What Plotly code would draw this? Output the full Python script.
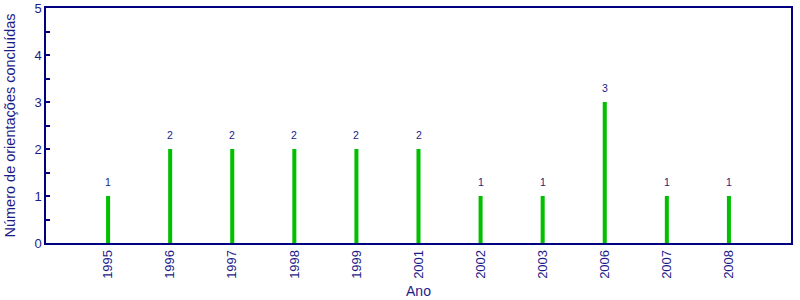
import plotly.graph_objects as go

anos = ["1995", "1996", "1997", "1998", "1999", "2001", "2002", "2003", "2006", "2007", "2008"]
orientacoes = [1, 2, 2, 2, 2, 2, 1, 1, 3, 1, 1]

navy = "#000080"
txt = "#1c1c88"
font_family = "Liberation Sans, Arial, Helvetica, sans-serif"

xs = list(range(len(anos)))

fig = go.Figure()
fig.add_trace(go.Bar(
    x=xs,
    y=orientacoes,
    width=0.065,
    marker=dict(color="#00c000", line=dict(width=0)),
    hoverinfo="skip",
))

for xi, v in zip(xs, orientacoes):
    fig.add_annotation(
        x=xi, y=v, xref="x", yref="y",
        text=str(v), showarrow=False,
        yanchor="bottom", yshift=6,
        font=dict(size=10.5, color=txt, family=font_family),
    )

fig.update_layout(
    width=800, height=300,
    margin=dict(l=46, r=9, t=8, b=57, autoexpand=False),
    paper_bgcolor="white", plot_bgcolor="white",
    showlegend=False,
    font=dict(family=font_family, color=txt),
    xaxis=dict(
        tickmode="array",
        tickvals=xs,
        ticktext=anos,
        range=[-1, len(anos)],
        tickangle=-90,
        ticks="",
        automargin=False,
        tickfont=dict(size=13, color=txt),
        showline=True, linecolor=navy, linewidth=1.5, mirror=True,
        showgrid=False, zeroline=False,
        title=dict(text="Ano", font=dict(size=14, color=txt), standoff=8),
    ),
    yaxis=dict(
        range=[0, 5],
        dtick=1,
        automargin=False,
        ticks="inside", ticklen=4, tickcolor=navy, tickwidth=1.5,
        minor=dict(dtick=0.5, ticks="inside", ticklen=4, tickcolor=navy, tickwidth=1.5),
        tickfont=dict(size=13, color=txt),
        showline=True, linecolor=navy, linewidth=1.5, mirror=True,
        showgrid=False, zeroline=False,
        title=dict(text="Número de orientações concluídas", font=dict(size=14.5, color=txt), standoff=15),
    ),
)

fig.write_html("out.html")
